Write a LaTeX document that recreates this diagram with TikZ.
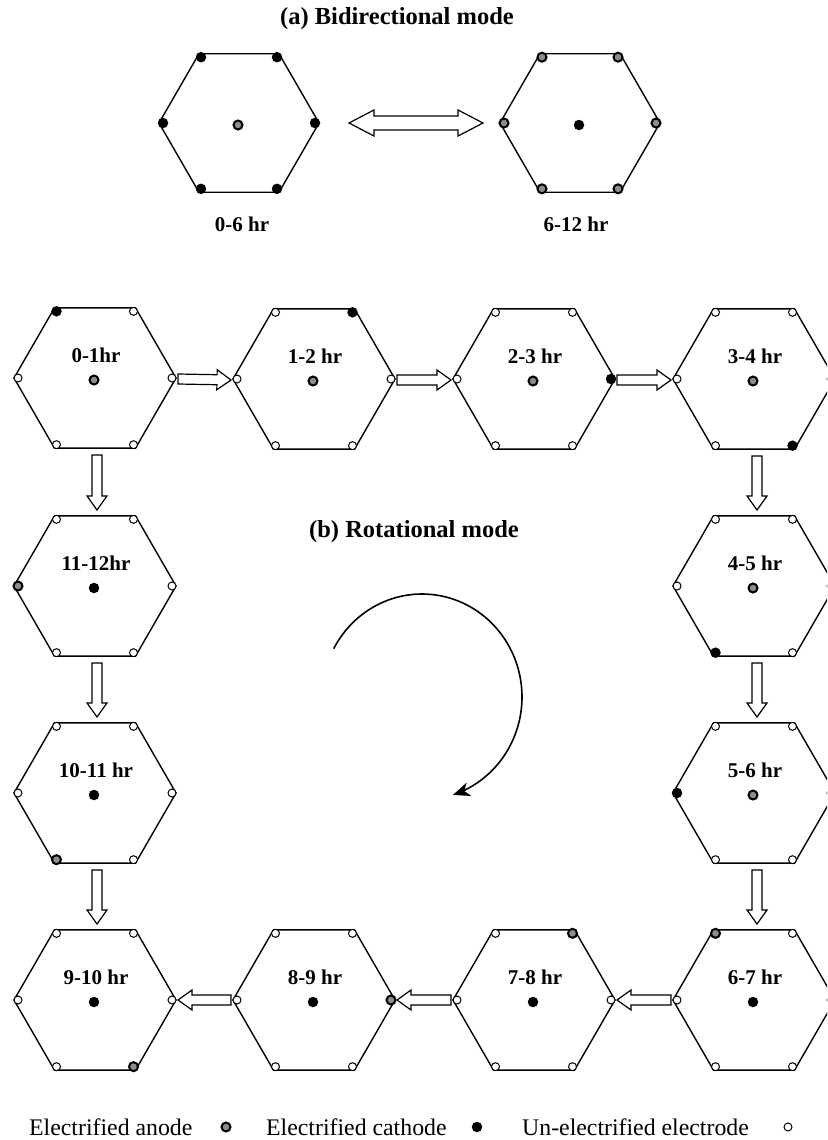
\documentclass[tikz,border=0pt]{standalone}
\usepackage{fontspec}
\setmainfont{Liberation Serif}
\usetikzlibrary{calc,arrows.meta}

\tikzset{
  hexline/.style={line width=1.4pt, line join=miter},
  elanode/.style={circle, draw=black, fill=black!45, line width=2pt, minimum size=9pt, inner sep=0pt},
  elcathode/.style={circle, fill=black, minimum size=10.5pt, inner sep=0pt},
  elidle/.style={circle, draw=black, fill=white, line width=1pt, minimum size=8pt, inner sep=0pt},
  hlabel/.style={font=\bfseries\fontsize{21}{24}\selectfont, inner sep=0pt},
  titletext/.style={font=\bfseries\fontsize{24.5}{28}\selectfont, inner sep=0pt},
  legendtext/.style={font=\fontsize{23.8}{28}\selectfont, inner sep=0pt, anchor=base west},
  blockarrow/.style={draw=black, fill=white, line width=1.2pt, line join=miter},
  turnarrow/.style={line width=1.6pt, -{Stealth[length=17pt, width=14pt, inset=5pt]}},
}

% hexagonal cell: name, centre, radius, electrode styles (vertices 0..5), centre electrode style
\newcommand\hexcell[5]{%
  \coordinate (#1) at #2;
  \draw[hexline] ($(#1)+(0:#3)$) -- ($(#1)+(60:#3)$) -- ($(#1)+(120:#3)$)
     -- ($(#1)+(180:#3)$) -- ($(#1)+(240:#3)$) -- ($(#1)+(300:#3)$) -- cycle;
  \foreach \et [count=\ei from 0] in {#4} {
    \node[\et] (#1-e\ei) at ($(#1)+(\ei*60:#3-4)$) {};
  }
  \node[#5] (#1-c) at ($(#1)+(-1,2)$) {};
}

% hollow block arrow between two named points
\newcommand\blockarr[2]{%
  \coordinate (#1-#2-h) at ($(#2)!14pt!(#1)$);
  \draw[blockarrow] ($(#1)!5pt!90:(#2)$) -- ($(#1-#2-h)!5pt!-90:(#1)$)
    -- ($(#1-#2-h)!10pt!-90:(#1)$) -- (#2) -- ($(#1-#2-h)!10pt!90:(#1)$)
    -- ($(#1-#2-h)!5pt!90:(#1)$) -- ($(#1)!5pt!-90:(#2)$) -- cycle;
}

\begin{document}
\begin{tikzpicture}[x=1pt, y=-1pt]
  \useasboundingbox (0,0) rectangle (827,1140);
  \fill[white] (0,0) rectangle (827,1140);
  \clip (0,0) rectangle (827,1140);

  % ---------- (a) bidirectional mode ----------
  \node[titletext] (ta) at (397,19) {(a) Bidirectional mode};
  \hexcell{ba}{(239,123)}{80}{elcathode,elcathode,elcathode,elcathode,elcathode,elcathode}{elanode}
  \hexcell{bb}{(580,123)}{80}{elanode,elanode,elanode,elanode,elanode,elanode}{elcathode}
  \node[hlabel] (ba-l) at (242,224) {0-6 hr};
  \node[hlabel] (bb-l) at (576,224) {6-12 hr};

  \coordinate (dl) at ($(ba)+(110,0)$);
  \coordinate (dr) at ($(bb)+(-97,0)$);
  \coordinate (dlh) at ($(dl)!25pt!(dr)$);
  \coordinate (drh) at ($(dr)!25pt!(dl)$);
  \draw[blockarrow] (dl) -- ($(dlh)!13pt!90:(dr)$) -- ($(dlh)!7pt!90:(dr)$)
     -- ($(drh)!7pt!-90:(dl)$) -- ($(drh)!13pt!-90:(dl)$) -- (dr)
     -- ($(drh)!13pt!90:(dl)$) -- ($(drh)!7pt!90:(dl)$)
     -- ($(dlh)!7pt!-90:(dr)$) -- ($(dlh)!13pt!-90:(dr)$) -- cycle;

  % ---------- (b) rotational mode ----------
  \node[titletext] (tb) at (414,532) {(b) Rotational mode};

  \hexcell{h01}{(95,378)}{81}{elidle,elidle,elidle,elidle,elcathode,elidle}{elanode}
  \hexcell{h12}{(314,379)}{81}{elidle,elidle,elidle,elidle,elidle,elcathode}{elanode}
  \hexcell{h23}{(534,379)}{81}{elcathode,elidle,elidle,elidle,elidle,elidle}{elanode}
  \hexcell{h34}{(754,379)}{81}{elidle,elcathode,elidle,elidle,elidle,elidle}{elanode}
  \hexcell{h45}{(754,586)}{81}{elidle,elidle,elcathode,elidle,elidle,elidle}{elanode}
  \hexcell{h56}{(754,793)}{81}{elidle,elidle,elidle,elcathode,elidle,elidle}{elanode}
  \hexcell{h67}{(754,1000)}{81}{elidle,elidle,elidle,elidle,elanode,elidle}{elcathode}
  \hexcell{h78}{(534,1000)}{81}{elidle,elidle,elidle,elidle,elidle,elanode}{elcathode}
  \hexcell{h89}{(314,1000)}{81}{elanode,elidle,elidle,elidle,elidle,elidle}{elcathode}
  \hexcell{h910}{(95,1000)}{81}{elidle,elanode,elidle,elidle,elidle,elidle}{elcathode}
  \hexcell{h1011}{(95,793)}{81}{elidle,elidle,elanode,elidle,elidle,elidle}{elcathode}
  \hexcell{h1112}{(95,586)}{81}{elidle,elidle,elidle,elanode,elidle,elidle}{elcathode}

  \node[hlabel] (h01-l)   at ($(h01)+(1,-23)$)   {0-1hr};
  \node[hlabel] (h12-l)   at ($(h12)+(1,-23)$)   {1-2 hr};
  \node[hlabel] (h23-l)   at ($(h23)+(1,-23)$)   {2-3 hr};
  \node[hlabel] (h34-l)   at ($(h34)+(1,-23)$)   {3-4 hr};
  \node[hlabel] (h45-l)   at ($(h45)+(1,-23)$)   {4-5 hr};
  \node[hlabel] (h56-l)   at ($(h56)+(1,-23)$)   {5-6 hr};
  \node[hlabel] (h67-l)   at ($(h67)+(1,-23)$)   {6-7 hr};
  \node[hlabel] (h78-l)   at ($(h78)+(1,-23)$)   {7-8 hr};
  \node[hlabel] (h89-l)   at ($(h89)+(1,-23)$)   {8-9 hr};
  \node[hlabel] (h910-l)  at ($(h910)+(1,-23)$)  {9-10 hr};
  \node[hlabel] (h1011-l) at ($(h1011)+(1,-23)$) {10-11 hr};
  \node[hlabel] (h1112-l) at ($(h1112)+(1,-23)$) {11-12hr};

  % arrow end points
  \coordinate (r1a) at ($(h01)+(83,1)$);   \coordinate (r1b) at ($(h12)+(-83,1)$);
  \coordinate (r2a) at ($(h12)+(83,1)$);   \coordinate (r2b) at ($(h23)+(-83,1)$);
  \coordinate (r3a) at ($(h23)+(83,1)$);   \coordinate (r3b) at ($(h34)+(-83,1)$);
  \coordinate (d1a) at ($(h34)+(3,77)$);   \coordinate (d1b) at ($(h45)+(3,-76)$);
  \coordinate (d2a) at ($(h45)+(3,77)$);   \coordinate (d2b) at ($(h56)+(3,-76)$);
  \coordinate (d3a) at ($(h56)+(3,77)$);   \coordinate (d3b) at ($(h67)+(3,-76)$);
  \coordinate (l1a) at ($(h67)+(-83,0)$);  \coordinate (l1b) at ($(h78)+(83,0)$);
  \coordinate (l2a) at ($(h78)+(-83,0)$);  \coordinate (l2b) at ($(h89)+(83,0)$);
  \coordinate (l3a) at ($(h89)+(-83,0)$);  \coordinate (l3b) at ($(h910)+(83,0)$);
  \coordinate (u1a) at ($(h01)+(2,77)$);   \coordinate (u1b) at ($(h1112)+(2,-76)$);
  \coordinate (u2a) at ($(h1112)+(2,77)$); \coordinate (u2b) at ($(h1011)+(2,-76)$);
  \coordinate (u3a) at ($(h1011)+(2,77)$); \coordinate (u3b) at ($(h910)+(2,-76)$);

  \blockarr{r1a}{r1b} \blockarr{r2a}{r2b} \blockarr{r3a}{r3b}
  \blockarr{d1a}{d1b} \blockarr{d2a}{d2b} \blockarr{d3a}{d3b}
  \blockarr{l1a}{l1b} \blockarr{l2a}{l2b} \blockarr{l3a}{l3b}
  \blockarr{u1a}{u1b} \blockarr{u2a}{u2b} \blockarr{u3a}{u3b}

  % clockwise turn arrow
  \coordinate (turn) at (422,697);
  \draw[turnarrow] plot[domain=208:432, samples=90, smooth]
     ({422+100*cos(\x)}, {697+103*sin(\x)});

  % ---------- legend ----------
  \node[legendtext] (lg1) at (29,1135) {Electrified anode};
  \node[elanode] (lg1s) at (226,1127) {};
  \node[legendtext] (lg2) at (266,1135) {Electrified cathode};
  \node[elcathode] (lg2s) at (477,1127) {};
  \node[legendtext] (lg3) at (522,1135) {Un-electrified electrode};
  \node[elidle] (lg3s) at (788,1127) {};
\end{tikzpicture}
\end{document}
